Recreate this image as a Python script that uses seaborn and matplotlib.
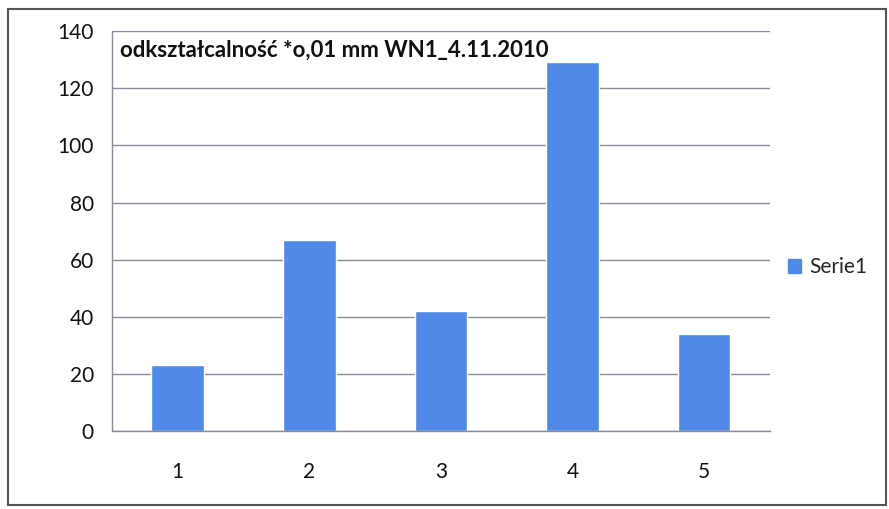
import matplotlib
matplotlib.use("Agg")
import matplotlib.pyplot as plt
import matplotlib.patches as mpatches
import pandas as pd
import seaborn as sns

# values
categories = ["1", "2", "3", "4", "5"]
values = [23, 67, 42, 129, 34]
series_name = "Serie1"
title = "odkształcalność *o,01 mm WN1_4.11.2010"

bar_color = "#5089e8"

sns.set_style("white")
plt.rcParams["font.family"] = ["Lato", "DejaVu Sans"]

df = pd.DataFrame({"cat": categories, "val": values, "series": series_name})

fig = plt.figure(figsize=(8.89, 5.09), dpi=100)
ax = fig.add_axes([0.126, 0.153, 0.740, 0.786])

sns.barplot(data=df, x="cat", y="val", hue="series", palette=[bar_color],
            width=0.4, saturation=1, ax=ax, legend=False)

ax.set_xlim(-0.5, 4.5)
ax.set_ylim(0, 140)
ax.set_yticks(range(0, 141, 20))
ax.grid(axis="y", color="#8a8a98", linewidth=1.0)
ax.set_axisbelow(True)
ax.set_xlabel("")
ax.set_ylabel("")

for side in ["top", "right"]:
    ax.spines[side].set_visible(False)
for side in ["left", "bottom"]:
    ax.spines[side].set_color("#8a8a98")
    ax.spines[side].set_linewidth(1.0)

# Excel-style: tick marks between categories, labels centred below
ax.set_xticks([i + 0.5 for i in range(-1, 5)], minor=True)
ax.tick_params(axis="x", which="minor", length=6, color="#8a8a98", direction="out")
ax.tick_params(axis="x", which="major", length=0, pad=22, labelsize=15, colors="#111111")
ax.tick_params(axis="y", length=5, color="#8a8a98", direction="out", pad=8,
               labelsize=15, colors="#111111")

ax.text(0.012, 0.978, title, transform=ax.transAxes, ha="left", va="top",
        fontsize=16, fontweight="bold", color="#111111")

handle = mpatches.Patch(color=bar_color, label=series_name)
fig.legend(handles=[handle], loc="center left", bbox_to_anchor=(0.872, 0.475),
           frameon=False, fontsize=15, handlelength=0.65, handleheight=0.65,
           handletextpad=0.4, borderaxespad=0.2)

# outer chart border
fig.patches.append(mpatches.Rectangle((0.009, 0.008), 0.988, 0.975,
                                      transform=fig.transFigure, fill=False,
                                      edgecolor="#555555", linewidth=1.5))

fig.savefig("out.png", dpi=100)
